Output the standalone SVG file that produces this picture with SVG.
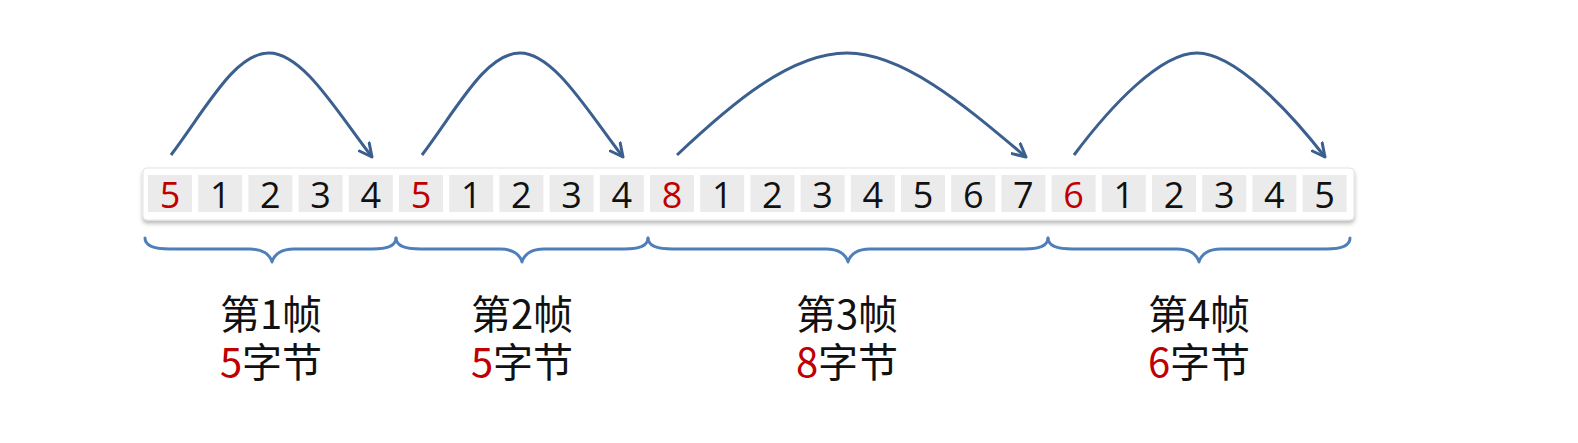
<svg xmlns="http://www.w3.org/2000/svg" width="1578" height="443" viewBox="0 0 1578 443">
<style>
.cell{fill:#ebebeb}
.d{font-family:"Open Sans","Noto Sans","Liberation Sans",sans-serif;font-size:36px;fill:#111;text-anchor:middle}
.r{fill:#c00000}
.brace{fill:none;stroke:#4f7fbb;stroke-width:3;stroke-linejoin:round;stroke-linecap:round}
.arc{fill:none;stroke:#3b5f8e;stroke-width:3;marker-end:url(#arr)}
.lab{font-family:"Noto Sans CJK SC","Noto Sans",sans-serif;font-size:40px;fill:#111;text-anchor:middle}
</style>
<defs>
<filter id="sh" x="-5%" y="-30%" width="110%" height="170%">
<feDropShadow dx="0" dy="3" stdDeviation="2.2" flood-color="#000" flood-opacity="0.28"/>
</filter>
<marker id="arr" markerUnits="userSpaceOnUse" markerWidth="16" markerHeight="16" viewBox="0 0 16 16" refX="14" refY="8" orient="auto">
<path d="M1,1.5 L14,8 L1,14.5" fill="none" stroke="#3b5f8e" stroke-width="3" stroke-linecap="round" stroke-linejoin="round"/>
</marker>
</defs>
<rect width="1578" height="443" fill="#fff"/>
<rect x="143" y="168" width="1211" height="52" rx="4" fill="#fff" stroke="#e4e4e4" stroke-width="1" filter="url(#sh)"/>

<g id="frame1">
<rect class="cell" x="148" y="175" width="44" height="37"/>
<rect class="cell" x="198.2" y="175" width="44" height="37"/>
<rect class="cell" x="248.4" y="175" width="44" height="37"/>
<rect class="cell" x="298.6" y="175" width="44" height="37"/>
<rect class="cell" x="348.8" y="175" width="44" height="37"/>
<text class="d r" x="170" y="208">5</text>
<text class="d" x="220.2" y="208">1</text>
<text class="d" x="270.4" y="208">2</text>
<text class="d" x="320.6" y="208">3</text>
<text class="d" x="370.8" y="208">4</text>
<path class="brace" d="M145,238 C145,246 155,249 170,249 L250,249 C262,249 270,254 272,262 C274,254 282,249 294,249 L372,249 C387,249 396,246 396,238"/>
<text class="lab" x="271" y="329">第1帧</text>
<text class="lab" x="271" y="377"><tspan class="r">5</tspan>字节</text>
</g>

<g id="frame2">
<rect class="cell" x="399" y="175" width="44" height="37"/>
<rect class="cell" x="449.2" y="175" width="44" height="37"/>
<rect class="cell" x="499.4" y="175" width="44" height="37"/>
<rect class="cell" x="549.6" y="175" width="44" height="37"/>
<rect class="cell" x="599.8" y="175" width="44" height="37"/>
<text class="d r" x="421" y="208">5</text>
<text class="d" x="471.2" y="208">1</text>
<text class="d" x="521.4" y="208">2</text>
<text class="d" x="571.6" y="208">3</text>
<text class="d" x="621.8" y="208">4</text>
<path class="brace" d="M396,238 C396,246 406,249 421,249 L500,249 C512,249 520,254 522,262 C524,254 532,249 544,249 L624,249 C639,249 648,246 648,238"/>
<text class="lab" x="522" y="329">第2帧</text>
<text class="lab" x="522" y="377"><tspan class="r">5</tspan>字节</text>
</g>

<g id="frame3">
<rect class="cell" x="650" y="175" width="44" height="37"/>
<rect class="cell" x="700.2" y="175" width="44" height="37"/>
<rect class="cell" x="750.4" y="175" width="44" height="37"/>
<rect class="cell" x="800.6" y="175" width="44" height="37"/>
<rect class="cell" x="850.8" y="175" width="44" height="37"/>
<rect class="cell" x="901" y="175" width="44" height="37"/>
<rect class="cell" x="951.2" y="175" width="44" height="37"/>
<rect class="cell" x="1001.4" y="175" width="44" height="37"/>
<text class="d r" x="672" y="208">8</text>
<text class="d" x="722.2" y="208">1</text>
<text class="d" x="772.4" y="208">2</text>
<text class="d" x="822.6" y="208">3</text>
<text class="d" x="872.8" y="208">4</text>
<text class="d" x="923" y="208">5</text>
<text class="d" x="973.2" y="208">6</text>
<text class="d" x="1023.4" y="208">7</text>
<path class="brace" d="M648,238 C648,246 658,249 673,249 L826,249 C838,249 846,254 848,262 C850,254 858,249 870,249 L1024,249 C1039,249 1048,246 1048,238"/>
<text class="lab" x="847" y="329">第3帧</text>
<text class="lab" x="847" y="377"><tspan class="r">8</tspan>字节</text>
</g>

<g id="frame4">
<rect class="cell" x="1051.6" y="175" width="44" height="37"/>
<rect class="cell" x="1101.8" y="175" width="44" height="37"/>
<rect class="cell" x="1152" y="175" width="44" height="37"/>
<rect class="cell" x="1202.2" y="175" width="44" height="37"/>
<rect class="cell" x="1252.4" y="175" width="44" height="37"/>
<rect class="cell" x="1302.6" y="175" width="44" height="37"/>
<text class="d r" x="1073.6" y="208">6</text>
<text class="d" x="1123.8" y="208">1</text>
<text class="d" x="1174" y="208">2</text>
<text class="d" x="1224.2" y="208">3</text>
<text class="d" x="1274.4" y="208">4</text>
<text class="d" x="1324.6" y="208">5</text>
<path class="brace" d="M1048,238 C1048,246 1058,249 1073,249 L1177,249 C1189,249 1197,254 1199,262 C1201,254 1209,249 1221,249 L1326,249 C1341,249 1350,246 1350,238"/>
<text class="lab" x="1199" y="329">第4帧</text>
<text class="lab" x="1199" y="377"><tspan class="r">6</tspan>字节</text>
</g>

<g id="connectors">
<path class="arc" d="M171,155 C207,107 235,53 269,53 C303,53 337,112 372,157"/>
<path class="arc" d="M422,155 C458,107 486,53 520,53 C554,53 588,112 623,157"/>
<path class="arc" d="M677,155 C730,105 790,53 847,53 C905,53 970,110 1026,157"/>
<path class="arc" d="M1074,155 C1110,107 1160,53 1197,53 C1235,53 1290,112 1325,157"/>
</g>
</svg>
